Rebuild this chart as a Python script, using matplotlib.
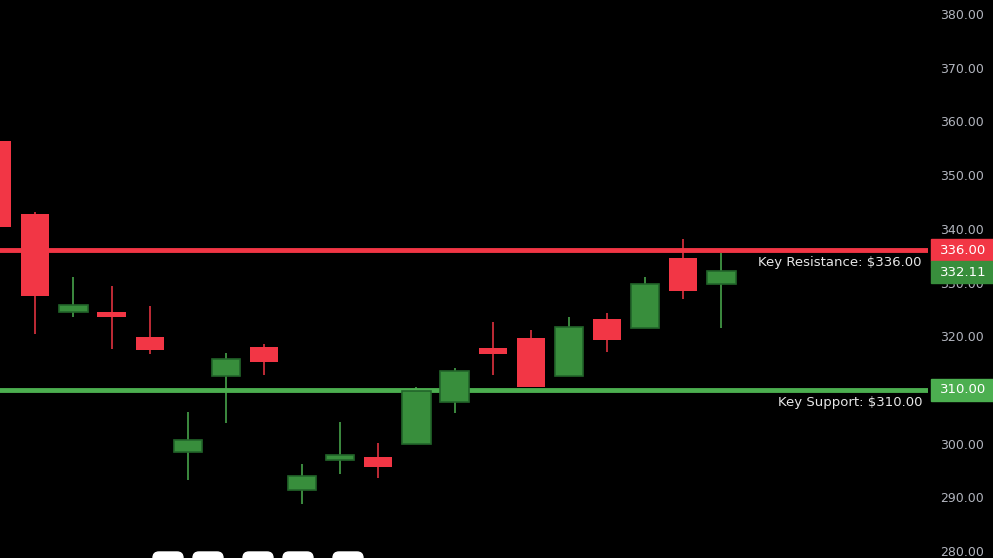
import matplotlib
matplotlib.use("Agg")
import matplotlib.pyplot as plt
from matplotlib.patches import Rectangle, FancyBboxPatch
from matplotlib.transforms import blended_transform_factory

# candle data
opens = [356.35, 342.76, 324.56, 324.51, 319.85, 298.38, 312.53, 317.99, 291.30, 296.89,
         297.50, 299.98, 307.80, 317.80, 319.66, 312.65, 323.20, 321.58, 334.56, 329.66]
highs = [356.40, 343.13, 331.02, 329.35, 325.62, 305.88, 316.87, 318.55, 296.20, 304.02,
         300.11, 310.54, 314.08, 322.64, 321.15, 323.58, 324.32, 331.02, 338.10, 335.50]
lows = [340.30, 320.46, 323.63, 317.67, 316.74, 293.28, 303.89, 312.83, 288.81, 294.40,
        293.65, 299.98, 305.70, 312.77, 310.54, 312.65, 317.11, 321.58, 326.93, 321.58]
closes = [340.33, 327.54, 325.81, 323.63, 317.49, 300.61, 315.70, 315.25, 293.91, 297.82,
          295.70, 309.80, 313.52, 316.74, 310.54, 321.66, 319.29, 329.72, 328.47, 332.11]

resistance = 336.00
support = 310.00
last_price = closes[-1]
# 310 sits fully under the support tag, so it is left out
yticks = [280, 290, 300, 320, 330, 340, 350, 360, 370, 380]

RED = "#f23645"
GREEN = "#388e3c"
GREEN_EDGE = "#22652a"
GREEN_LIGHT = "#4caf50"

W, H = 993, 558
fig = plt.figure(figsize=(W / 100, H / 100), dpi=100, facecolor="black")
ax = fig.add_axes([0, 0, 928 / W, 1])
ax.set_facecolor("black")

# levels
ax.axhline(resistance, color=RED, lw=3.5, zorder=1)
ax.axhline(support, color=GREEN_LIGHT, lw=3.5, zorder=1)

# candles
xs = list(range(len(opens)))
for i in xs:
    o, h, l, c = opens[i], highs[i], lows[i], closes[i]
    up = c >= o
    wick_col = GREEN_LIGHT if up else RED
    ax.vlines(i, l, h, color=wick_col, lw=1.1, zorder=2)
    if up:
        ax.bar(i, c - o, bottom=o, width=0.74, color=GREEN, edgecolor=GREEN_EDGE,
               linewidth=1.2, zorder=3)
    else:
        ax.bar(i, o - c, bottom=c, width=0.74, color=RED, edgecolor=RED,
               linewidth=0, zorder=3)

ax.set_xlim(0.0735, 24.42)
ax.set_ylim(278.70, 382.61)

ax.yaxis.tick_right()
ax.set_yticks(yticks)
ax.set_yticklabels(["%.2f" % v for v in yticks])
ax.tick_params(axis="y", length=0, pad=9, colors="#b2b5be", labelsize=9)
ax.set_xticks([])
for s in ax.spines.values():
    s.set_visible(False)

# level captions
cap_tr = blended_transform_factory(ax.transAxes, ax.transData)
ax.text(922 / 928, resistance - 2.35, "Key Resistance: $%.2f" % resistance,
        transform=cap_tr, ha="right", va="center", color="#e6e6e6", fontsize=9.5)
ax.text(922 / 928, support - 2.35, "Key Support: $%.2f" % support,
        transform=cap_tr, ha="right", va="center", color="#e6e6e6", fontsize=9.5)

# price tags on the axis
tr = blended_transform_factory(fig.transFigure, ax.transData)
tag_h = 22 / 5.37
for val, col in [(resistance, RED), (last_price, GREEN), (support, GREEN_LIGHT)]:
    yc = val
    if val == last_price:
        yc = resistance - tag_h
    fig.patches.append(Rectangle((931 / W, yc - tag_h / 2), 62 / W, tag_h,
                                 transform=tr, color=col, zorder=5))
    fig.text(963 / W, yc, "%.2f" % val, transform=tr, ha="center", va="center",
             color="white", fontsize=9.5, zorder=6)

# white chips cut off at bottom edge
for x0 in [153, 193, 243, 283, 333]:
    fig.patches.append(FancyBboxPatch((x0 / W, -10 / H), 30 / W, 16 / H,
                                      boxstyle="round,pad=0,rounding_size=0.006",
                                      transform=fig.transFigure, color="white",
                                      mutation_aspect=W / H, zorder=5))

fig.savefig("out.png", dpi=100, facecolor="black")
